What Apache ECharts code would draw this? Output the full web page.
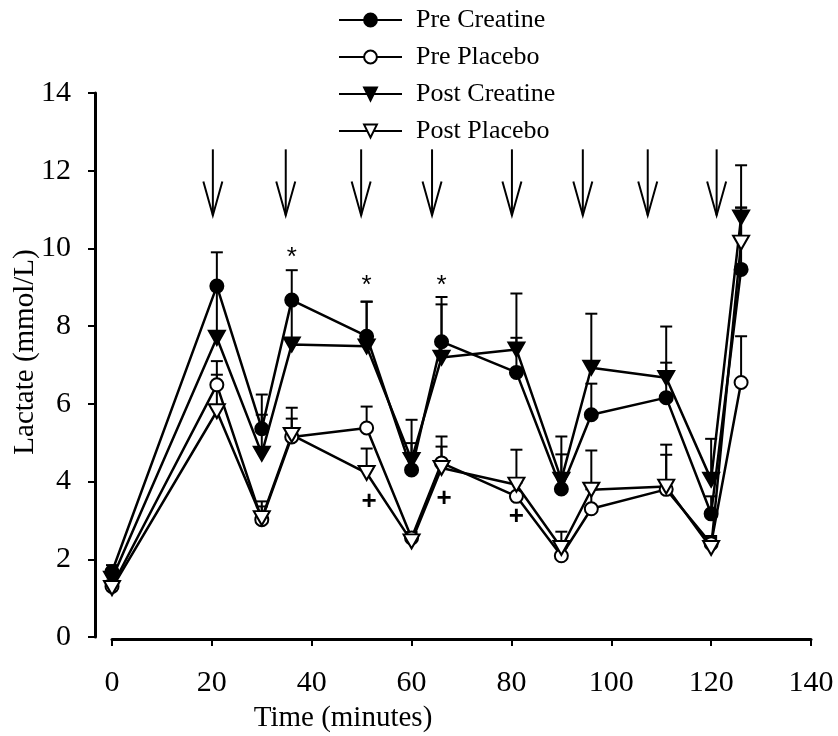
<!DOCTYPE html>
<html><head><meta charset="utf-8">
<script src="https://cdn.jsdelivr.net/npm/echarts@6/dist/echarts.min.js"></script>
<style>html,body{margin:0;padding:0;background:#fff}#c{width:838px;height:736px}</style>
</head><body><div id="c"></div>
<script>
// ---- data ----
const times = [0, 21, 30, 36, 51, 60, 66, 81, 90, 96, 111, 120, 126];
const preCreatine     = [1.68, 9.03, 5.36, 8.67, 7.74, 4.30, 7.60, 6.81, 3.81, 5.72, 6.16, 3.17, 9.46];
const preCreatineSD   = [0.17, 0.87, 0.88, 0.77, 0.89, 1.29, 1.15, 0.89, 1.35, 0.80, 0.90, 0.45, 1.59];
const prePlacebo      = [1.30, 6.49, 3.02, 5.15, 5.38, 2.55, 4.48, 3.62, 2.09, 3.30, 3.80, 2.40, 6.55];
const prePlaceboSD    = [0.15, 0.61, 0.47, 0.75, 0.55, 0.15, 0.68, 0.35, 0.20, 0.50, 0.89, 0.20, 1.19];
const postCreatine    = [1.50, 7.70, 4.72, 7.53, 7.48, 4.56, 7.19, 7.40, 4.05, 6.93, 6.67, 4.05, 10.80];
const postCreatineSD  = [0.10, 1.30, 1.00, 1.10, 1.15, 0.43, 1.37, 1.44, 0.65, 1.39, 1.32, 1.05, 1.34];
const postPlacebo     = [1.26, 5.81, 3.06, 5.20, 4.22, 2.46, 4.35, 3.92, 2.29, 3.79, 3.87, 2.29, 10.15];
const postPlaceboSD   = [0.09, 0.94, 0.30, 0.42, 0.63, 0.14, 0.55, 0.90, 0.42, 1.01, 1.08, 0.26, 0.90];
const arrowTimes = [20.2, 34.8, 49.9, 64.1, 80.1, 94.3, 107.3, 121.1];
const arrowTop = 12.55, arrowTip = 10.85;
const asterisks = [[36, 9.9], [51, 9.2], [66, 9.2]];
const pluses = [[51.5, 3.48], [66.5, 3.56], [81, 3.09]];
const xTicks = [0, 20, 40, 60, 80, 100, 120, 140];
const yTicks = [0, 2, 4, 6, 8, 10, 12, 14];

const SERIF = '"Liberation Serif", "Times New Roman", serif';
const TRI = 'path://M0,0L10,0L5,9Z';

const groups = [
  {name: 'Pre Creatine', m: preCreatine, sd: preCreatineSD, symbol: 'circle', size: 13, fill: '#000'},
  {name: 'Pre Placebo', m: prePlacebo, sd: prePlaceboSD, symbol: 'circle', size: 13, fill: '#fff'},
  {name: 'Post Creatine', m: postCreatine, sd: postCreatineSD, symbol: TRI, size: [16, 14], fill: '#000'},
  {name: 'Post Placebo', m: postPlacebo, sd: postPlaceboSD, symbol: TRI, size: [16, 14], fill: '#fff'}
];

const series = [];
groups.forEach(g => {
  series.push({
    type: 'custom', z: 1, silent: true,
    data: times.map((t, i) => [t, g.m[i], g.sd[i]]),
    encode: {x: 0, y: 1},
    renderItem(params, api) {
      const x = api.value(0), m = api.value(1), sd = api.value(2);
      const p0 = api.coord([x, m]), p1 = api.coord([x, m + sd]);
      const hw = 6;
      return {type: 'group', children: [
        {type: 'line', shape: {x1: p0[0], y1: p0[1], x2: p1[0], y2: p1[1]}, style: {stroke: '#000', lineWidth: 2}},
        {type: 'line', shape: {x1: p1[0] - hw, y1: p1[1], x2: p1[0] + hw, y2: p1[1]}, style: {stroke: '#000', lineWidth: 2}}
      ]};
    }
  });
});
groups.forEach(g => {
  series.push({
    type: 'line', name: g.name, z: 3,
    data: times.map((t, i) => [t, g.m[i]]),
    symbol: g.symbol, symbolSize: g.size, showAllSymbol: true,
    lineStyle: {color: '#000', width: 2.5},
    itemStyle: {color: g.fill, borderColor: '#000', borderWidth: 2},
    emphasis: {disabled: true}
  });
});
series.push({
  type: 'custom', z: 4, silent: true,
  data: arrowTimes.map(t => [t, arrowTop, arrowTip]),
  encode: {x: 0, y: [1, 2]},
  renderItem(params, api) {
    const t = api.value(0);
    const top = api.coord([t, api.value(1)]), tip = api.coord([t, api.value(2)]);
    return {type: 'group', children: [
      {type: 'line', shape: {x1: top[0], y1: top[1], x2: tip[0], y2: tip[1]}, style: {stroke: '#000', lineWidth: 2}},
      {type: 'polyline', shape: {points: [[tip[0] - 9.5, tip[1] - 34], [tip[0], tip[1]], [tip[0] + 9.5, tip[1] - 34]]}, style: {stroke: '#000', lineWidth: 2, fill: null}}
    ]};
  }
});
function textSeries(pts, txt, font, dy) {
  return {
    type: 'custom', z: 5, silent: true,
    data: pts, encode: {x: 0, y: 1},
    renderItem(params, api) {
      const p = api.coord([api.value(0), api.value(1)]);
      return {type: 'text', x: p[0], y: p[1] + dy, style: {text: txt, font: font, fill: '#000', align: 'center', verticalAlign: 'middle'}};
    }
  };
}
series.push(textSeries(asterisks, '*', '26px "Liberation Sans", Arial, sans-serif', 6));
series.push(textSeries(pluses, '+', 'bold 26px "Liberation Sans", Arial, sans-serif', 0));

const chart = echarts.init(document.getElementById('c'), null, {renderer: 'canvas'});
chart.setOption({
  animation: false,
  backgroundColor: '#fff',
  grid: {left: 112, right: 27, top: 93, bottom: 99, containLabel: false},
  legend: {
    orient: 'vertical', left: 333, top: 2, itemWidth: 63, itemHeight: 16, itemGap: 11,
    data: groups.map(g => g.name),
    textStyle: {fontFamily: SERIF, fontSize: 26, color: '#000', padding: [0, 0, 0, 9]},
    selectedMode: false
  },
  xAxis: {
    type: 'value', min: 0, max: 140, interval: 20, offset: 2,
    axisLine: {show: true, onZero: false, lineStyle: {color: '#000', width: 3}},
    axisTick: {show: true, length: 7, lineStyle: {color: '#000', width: 2}},
    axisLabel: {fontFamily: SERIF, fontSize: 30, color: '#000', margin: 29,
      customValues: xTicks},
    splitLine: {show: false}
  },
  yAxis: {
    type: 'value', min: 0, max: 14, interval: 2, offset: 17,
    axisLine: {show: true, onZero: false, lineStyle: {color: '#000', width: 3}},
    axisTick: {show: true, length: 7, lineStyle: {color: '#000', width: 2}},
    axisLabel: {fontFamily: SERIF, fontSize: 30, color: '#000', margin: 24},
    splitLine: {show: false}
  },
  graphic: [
    {type: 'text', x: 343, y: 718, style: {text: 'Time (minutes)', font: '29px ' + SERIF, fill: '#000', align: 'center', verticalAlign: 'middle'}},
    {type: 'text', x: 25, y: 352, rotation: Math.PI / 2, style: {text: 'Lactate (mmol/L)', font: '29px ' + SERIF, fill: '#000', align: 'center', verticalAlign: 'middle'}}
  ],
  series: series
});
</script></body></html>
